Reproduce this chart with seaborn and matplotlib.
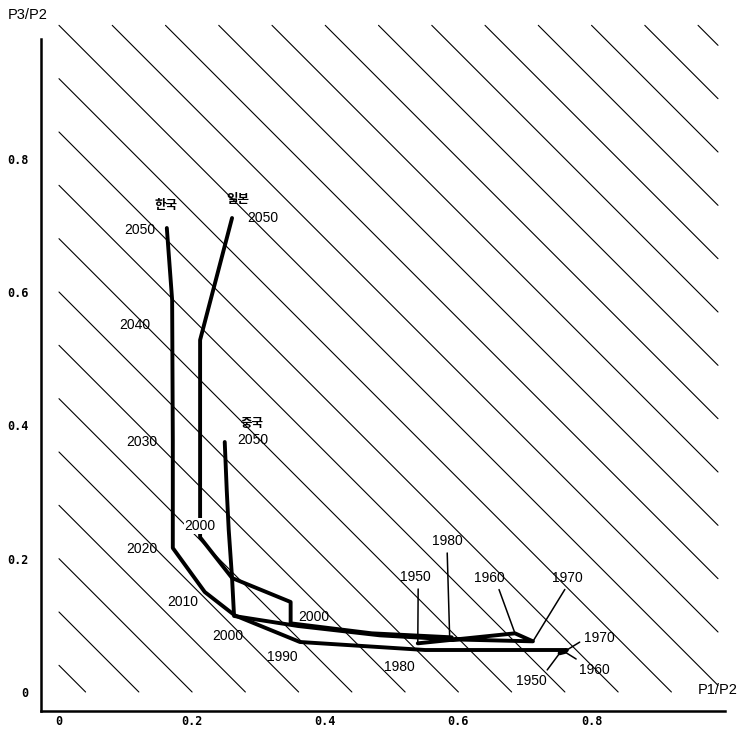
import numpy as np
import pandas as pd
import matplotlib
matplotlib.use("Agg")
import matplotlib.pyplot as plt
from matplotlib.ticker import MultipleLocator
import seaborn as sns

# ---------------- data ----------------
YEARS = [1950, 1960, 1970, 1980, 1990, 2000, 2010, 2020, 2030, 2040, 2050]

KOREA_X = [0.752, 0.760, 0.763, 0.550, 0.362, 0.264, 0.219, 0.171, 0.171, 0.170, 0.162]
KOREA_Y = [0.058, 0.060, 0.063, 0.063, 0.075, 0.115, 0.150, 0.216, 0.378, 0.588, 0.696]

JAPAN_X = [0.590, 0.470, 0.348, 0.348, 0.260, 0.212, 0.212, 0.212, 0.212, 0.212, 0.260]
JAPAN_Y = [0.082, 0.088, 0.103, 0.135, 0.171, 0.232, 0.303, 0.378, 0.445, 0.528, 0.711]

CHINA_X = [0.539, 0.685, 0.712, 0.587, 0.482, 0.359, 0.263, 0.260, 0.255, 0.252, 0.249]
CHINA_Y = [0.073, 0.088, 0.076, 0.079, 0.085, 0.099, 0.114, 0.171, 0.243, 0.303, 0.375]

COUNTRIES = ["한국", "일본", "중국"]

# iso-lines of total dependency  P1/P2 + P3/P2 = c
ISO_LEVELS = [0.04, 0.12, 0.20, 0.28, 0.36, 0.44, 0.52, 0.60, 0.68, 0.76, 0.84, 0.92,
              1.00, 1.08, 1.16, 1.24, 1.32, 1.40, 1.48, 1.56, 1.64, 1.72, 1.80, 1.88, 1.96]

X_TICKS = [0, 0.2, 0.4, 0.6, 0.8]
X_TICK_LABELS = ["0", "0.2", "0.4", "0.6", "0.8"]
Y_TICKS = [0, 0.2, 0.4, 0.6, 0.8]
Y_TICK_LABELS = ["0", "0.2", "0.4", "0.6", "0.8"]

frames = []
for name, xs, ys in [("한국", KOREA_X, KOREA_Y), ("일본", JAPAN_X, JAPAN_Y), ("중국", CHINA_X, CHINA_Y)]:
    frames.append(pd.DataFrame({"country": name, "year": YEARS, "x": xs, "y": ys}))
df = pd.concat(frames, ignore_index=True)

# ---------------- figure ----------------
sns.set_theme(style="white")
plt.rcParams["font.family"] = ["Liberation Sans", "Noto Sans CJK KR", "DejaVu Sans"]
plt.rcParams["text.color"] = "black"
plt.rcParams["xtick.color"] = "black"
plt.rcParams["ytick.color"] = "black"
plt.rcParams["axes.labelcolor"] = "black"

W, H = 738, 734
fig = plt.figure(figsize=(W / 100, H / 100), dpi=100)
fig.patch.set_facecolor("white")
ax = fig.add_axes([41 / W, 23 / H, (728 - 41) / W, (711 - 22) / H])
ax.set_facecolor("white")
ax.set_xlim(-0.027, 1.005)
ax.set_ylim(-0.0285, 1.005)

# diagonal iso-lines
for c in ISO_LEVELS:
    x0 = max(0.0, c - 1.0)
    x1 = min(0.99, c)
    ax.plot([x0, x1], [c - x0, c - x1], color="black", lw=0.8, zorder=1)

sns.lineplot(data=df, x="x", y="y", units="country", estimator=None, sort=False,
             color="black", linewidth=2.8, legend=False, ax=ax, zorder=3)
for ln in ax.lines[len(ISO_LEVELS):]:
    ln.set_solid_joinstyle("round")
    ln.set_solid_capstyle("round")

# ---------------- axes styling ----------------
for s in ["top", "right"]:
    ax.spines[s].set_visible(False)
for s in ["left", "bottom"]:
    ax.spines[s].set_color("black")
    ax.spines[s].set_linewidth(1.8)
ax.spines["left"].set_bounds(-0.0285, 0.98)
ax.spines["bottom"].set_bounds(-0.027, 1.0)

ax.set_xticks(X_TICKS)
ax.set_xticklabels(X_TICK_LABELS)
ax.set_yticks(Y_TICKS)
ax.set_yticklabels(Y_TICK_LABELS)
ax.xaxis.set_minor_locator(MultipleLocator(0.05))
ax.yaxis.set_minor_locator(MultipleLocator(0.05))
ax.tick_params(axis="both", which="both", direction="in", length=5, width=1,
               color="black", labelcolor="black")
ax.tick_params(axis="x", which="major", pad=3)
ax.tick_params(axis="y", which="major", pad=9)
for lab in ax.get_xticklabels() + ax.get_yticklabels():
    lab.set_fontfamily("DejaVu Sans Mono")
    lab.set_fontweight("bold")
    lab.set_fontsize(8.5)
ax.set_xlabel("")
ax.set_ylabel("")
ax.grid(False)

fig.text(28 / W, 1 - 15 / H, "P3/P2", ha="center", va="center", fontsize=10.5,
         color="black", family=["Liberation Sans Narrow", "Liberation Sans"])
fig.text(718 / W, 1 - 690 / H, "P1/P2", ha="center", va="center", fontsize=10.5,
         color="black", family=["Liberation Sans Narrow", "Liberation Sans"])

# ---------------- labels ----------------
num_fs = 10
kr_fs = 9
kfam = ["Noto Sans CJK KR", "DejaVu Sans"]

plain_labels = [
    ("한국", 0.161, 0.730, True),
    ("2050", 0.122, 0.693, False),
    ("2040", 0.114, 0.550, False),
    ("2030", 0.125, 0.375, False),
    ("2020", 0.125, 0.214, False),
    ("2010", 0.186, 0.135, False),
    ("2000", 0.254, 0.084, False),
    ("1990", 0.336, 0.052, False),
    ("1980", 0.512, 0.037, False),
    ("일본", 0.269, 0.738, True),
    ("2050", 0.306, 0.711, False),
    ("중국", 0.290, 0.403, True),
    ("2050", 0.291, 0.378, False),
    ("2000", 0.383, 0.112, False),
]
for txt, tx, ty, is_kr in plain_labels:
    if is_kr:
        ax.text(tx, ty, txt, ha="center", va="center", fontsize=kr_fs, family=kfam,
                fontweight="bold", color="black", zorder=5)
    else:
        ax.text(tx, ty, txt, ha="center", va="center", fontsize=num_fs,
                color="black", zorder=5)

ax.text(0.212, 0.249, "2000", ha="center", va="center", fontsize=num_fs, zorder=5,
        color="black", bbox=dict(facecolor="white", edgecolor="none", pad=0.5))

# leader-line labels
def pt(xs, ys, year):
    i = YEARS.index(year)
    return xs[i], ys[i]

leaders = [
    ("1950", pt(CHINA_X, CHINA_Y, 1950), (0.535, 0.172), (0.6, 0.0)),
    ("1980", pt(CHINA_X, CHINA_Y, 1980), (0.583, 0.226), (0.5, 0.0)),
    ("1960", pt(CHINA_X, CHINA_Y, 1960), (0.647, 0.171), (0.75, 0.0)),
    ("1970", pt(CHINA_X, CHINA_Y, 1970), (0.764, 0.171), (0.5, 0.0)),
    ("1970", pt(KOREA_X, KOREA_Y, 1970), (0.812, 0.081), (0.0, 0.4)),
    ("1960", pt(KOREA_X, KOREA_Y, 1960), (0.805, 0.033), (0.1, 1.0)),
    ("1950", pt(KOREA_X, KOREA_Y, 1950), (0.710, 0.016), (0.9, 1.0)),
]
for txt, xy, xyt, rp in leaders:
    ax.annotate(txt, xy=xy, xytext=xyt, ha="center", va="center", fontsize=num_fs,
                color="black", zorder=5,
                arrowprops=dict(arrowstyle="-", color="black", lw=1.1,
                                shrinkA=1, shrinkB=0, relpos=rp))

fig.savefig("out.png", dpi=100, facecolor="white")
